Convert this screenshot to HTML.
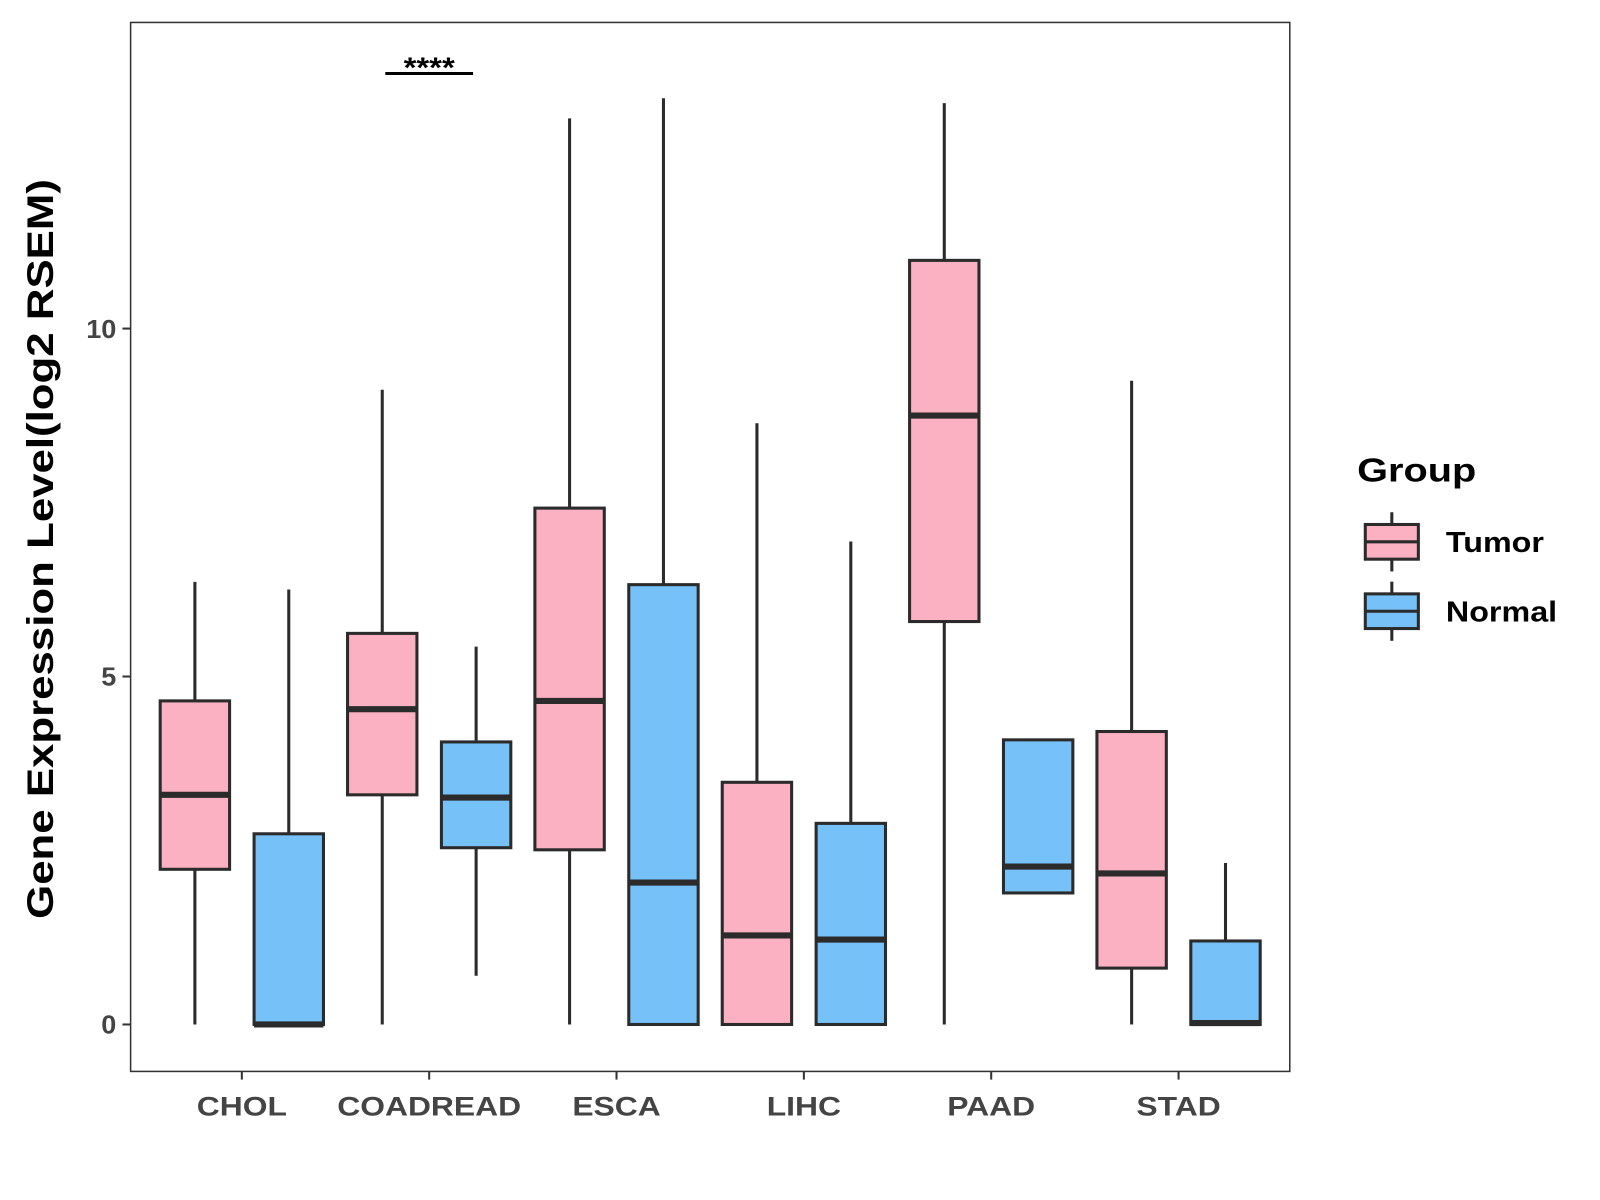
<!DOCTYPE html>
<html><head><meta charset="utf-8"><style>
html,body{margin:0;padding:0;background:#fff;}
svg{display:block;font-family:"Liberation Sans",Arial,sans-serif;}
</style></head><body>
<svg id="chart" width="1600" height="1200" viewBox="0 0 1600 1200"><g id="root" transform="scale(1.0204)"></g></svg>
<script>
const categories = ["CHOL","COADREAD","ESCA","LIHC","PAAD","STAD"];
const groups = ["Tumor","Normal"];
// [low, q1, median, q3, high] per category
const tumorStats = [
  [0,2.23,3.30,4.65,6.36],
  [0,3.30,4.53,5.62,9.12],
  [0,2.51,4.65,7.42,13.02],
  [0,0,1.28,3.48,8.64],
  [0,5.79,8.75,10.98,13.24],
  [0,0.81,2.17,4.21,9.25]
];
const normalStats = [
  [0,0,0,2.74,6.25],
  [0.70,2.54,3.26,4.06,5.43],
  [0,0,2.04,6.32,13.31],
  [0,0,1.22,2.89,6.94],
  [1.88,1.89,2.27,4.09,4.09],
  [0,0,0.02,1.20,2.32]
];
const yTicks = [0,5,10];
const sigLabels = [{cat:"COADREAD", text:"****"}];

const NS="http://www.w3.org/2000/svg";
const svg=document.getElementById("root");
const P={l:128,r:1264,t:22,b:1050};
const y=v=>1004-v*68.2;
const catStep=183.6, catStart=237;
const x=i=>catStart+i*catStep;
const colors={Tumor:"#FBB1C1",Normal:"#76C1F8"};
const stroke="#2b2b2b";
function el(tag,attrs,parent){const e=document.createElementNS(NS,tag);for(const k in attrs)e.setAttribute(k,attrs[k]);(parent||svg).appendChild(e);return e;}
function stretch(t,f){const L=t.getComputedTextLength();t.setAttribute('textLength',(L*f).toFixed(1));t.setAttribute('lengthAdjust','spacingAndGlyphs');}

const panel=el("rect",{x:P.l,y:P.t,width:P.r-P.l,height:P.b-P.t,fill:"#fff",stroke:"#333","stroke-width":1.5});



yTicks.forEach(t=>{
  const tk=el("line",{x1:P.l-8,x2:P.l,y1:y(t),y2:y(t),stroke:"#333","stroke-width":2});
  
  
  const tl=el("text",{x:P.l-14,y:y(t)+9,"text-anchor":"end","font-size":25,"font-weight":"bold",fill:"#444"});
  tl.textContent=t;
  
  
  stretch(tl,1.06);
});
categories.forEach((c,i)=>{
  const tk=el("line",{x1:x(i),x2:x(i),y1:P.b,y2:P.b+8,stroke:"#333","stroke-width":2});
  
  
  const tl=el("text",{x:x(i),y:1093,"text-anchor":"middle","font-size":26,"font-weight":"bold",fill:"#444"});
  tl.textContent=c;
  
  
  stretch(tl,1.2);
});

function box(cx,s,col,name){
  const g=el("g",{});
  
  
  const w=68;
  el("line",{x1:cx,x2:cx,y1:y(s[4]),y2:y(s[3]),stroke:stroke,"stroke-width":3},g);
  el("line",{x1:cx,x2:cx,y1:y(s[1]),y2:y(s[0]),stroke:stroke,"stroke-width":3},g);
  el("rect",{x:cx-w/2,y:y(s[3]),width:w,height:Math.max(y(s[1])-y(s[3]),0.5),fill:col,stroke:stroke,"stroke-width":3},g);
  el("line",{x1:cx-w/2,x2:cx+w/2,y1:y(s[2]),y2:y(s[2]),stroke:stroke,"stroke-width":6},g);
}
categories.forEach((c,i)=>{
  box(x(i)-46,tumorStats[i],colors.Tumor,"box-tumor-"+c.toLowerCase());
  box(x(i)+46,normalStats[i],colors.Normal,"box-normal-"+c.toLowerCase());
});

sigLabels.forEach(s=>{
  const i=categories.indexOf(s.cat);
  const ln=el("line",{x1:x(i)-43,x2:x(i)+43,y1:72,y2:72,stroke:"#000","stroke-width":3});
  
  
  const t=el("text",{x:x(i),y:76,"text-anchor":"middle","font-size":28,"font-weight":"bold",fill:"#000"});
  t.textContent=s.text;
  
  
  stretch(t,1.15);
});

const yt=el("text",{x:0,y:0,transform:"translate(52,538) rotate(-90)","text-anchor":"middle","font-size":36,"font-weight":"bold",fill:"#000"});
yt.textContent="Gene Expression Level(log2 RSEM)";


yt.setAttribute('textLength','725');
yt.setAttribute('lengthAdjust','spacingAndGlyphs');

const lt=el("text",{x:1330,y:472,"font-size":33,"font-weight":"bold",fill:"#000"});
lt.textContent="Group";


stretch(lt,1.18);
groups.forEach((g,k)=>{
  const cy=531+k*68;
  const lg=el("g",{});
  
  
  el("line",{x1:1364,x2:1364,y1:cy-29,y2:cy+29,stroke:stroke,"stroke-width":3},lg);
  el("rect",{x:1338,y:cy-17,width:52,height:34,fill:colors[g],stroke:stroke,"stroke-width":3},lg);
  el("line",{x1:1338,x2:1390,y1:cy,y2:cy,stroke:stroke,"stroke-width":3},lg);
  const t=el("text",{x:1417,y:cy+10,"font-size":28,"font-weight":"bold",fill:"#000"},lg);
  t.textContent=g;
  stretch(t,1.13);
});
</script>
</body></html>
